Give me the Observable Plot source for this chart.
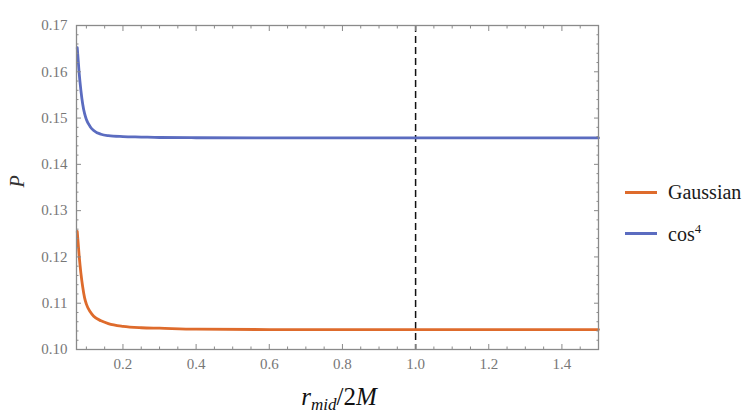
<!DOCTYPE html>
<html><head><meta charset="utf-8">
<script src="https://cdn.jsdelivr.net/npm/d3@7"></script>
<script src="https://cdn.jsdelivr.net/npm/@observablehq/plot@0.6"></script>
<style>
body{margin:0;background:#fff;}
#wrap{position:relative;width:748px;height:419px;overflow:hidden;}
.legrow{position:absolute;display:flex;align-items:center;font-family:"Liberation Serif",serif;font-size:20px;color:#1a1a1a;}
.legrow .sw{width:32px;height:2.5px;margin-right:11px;}
#xlab{position:absolute;left:0;width:678px;text-align:center;top:383px;font-family:"Liberation Serif",serif;font-size:25px;color:#111;}
#xlab sub{font-size:17px;vertical-align:-5px;}
</style></head><body><div id="wrap"></div>
<script>
// ---- data ----
const rValues   = [0.075, 0.08, 0.085, 0.09, 0.095, 0.1, 0.11, 0.12, 0.14, 0.16, 0.2, 0.25, 0.3, 0.4, 0.6, 0.8, 1.0, 1.2, 1.5];
const gaussianP = [0.1255, 0.1205, 0.1165, 0.1135, 0.1112, 0.1098, 0.1082, 0.1072, 0.1062, 0.1056, 0.1050, 0.1047, 0.1046, 0.1044, 0.1043, 0.1043, 0.1043, 0.1043, 0.1043];
const cos4P     = [0.1652, 0.1600, 0.1560, 0.1530, 0.1510, 0.1497, 0.1482, 0.1473, 0.1465, 0.1462, 0.1460, 0.1459, 0.1458, 0.14575, 0.1457, 0.1457, 0.1457, 0.1457, 0.1457];
const seriesNames  = ["Gaussian", "cos⁴"];
const seriesColors = ["#de6b2c", "#5b6cc0"];
const xMajorTicks = [0.2, 0.4, 0.6, 0.8, 1.0, 1.2, 1.4];
const xMinorTicks = [0.1, 0.15, 0.25, 0.3, 0.35, 0.45, 0.5, 0.55, 0.65, 0.7, 0.75, 0.85, 0.9, 0.95, 1.05, 1.1, 1.15, 1.25, 1.3, 1.35, 1.45];
const yMajorTicks = [0.10, 0.11, 0.12, 0.13, 0.14, 0.15, 0.16, 0.17];
const yMinorTicks = [0.102, 0.104, 0.106, 0.108, 0.112, 0.114, 0.116, 0.118, 0.122, 0.124, 0.126, 0.128, 0.132, 0.134, 0.136, 0.138, 0.142, 0.144, 0.146, 0.148, 0.152, 0.154, 0.156, 0.158, 0.162, 0.164, 0.166, 0.168];
const xDomain = [0.073, 1.5];
const yDomain = [0.10, 0.17];
const horizon = [1.0];

const rows = [];
rValues.forEach((r, i) => {
  rows.push({r, P: gaussianP[i], s: seriesNames[0]});
  rows.push({r, P: cos4P[i], s: seriesNames[1]});
});

const axisColor = "#8a8a8a";
const labelFont = {fontFamily: "Liberation Serif", fontSize: 15, fill: "#777"};
const fmt = d3.format(".2f");
const fmt1 = d3.format(".1f");

const chart = Plot.plot({
  width: 748, height: 419,
  marginLeft: 76, marginRight: 150, marginTop: 25, marginBottom: 70,
  style: {fontFamily: "'Liberation Serif', serif", fontSize: "15px", color: "#777", background: "#fff"},
  x: {domain: xDomain},
  y: {domain: yDomain},
  color: {domain: seriesNames, range: seriesColors},
  marks: [
    Plot.ruleX(horizon, {stroke: "#111", strokeWidth: 1.5, strokeDasharray: "7,4"}),
    Plot.line(rows, {x: "r", y: "P", z: "s", stroke: "s", strokeWidth: 2.8, curve: "monotone-x"}),
    Plot.frame({stroke: axisColor, strokeWidth: 1.3}),
    // inward ticks on all four sides
    Plot.axisX(xMajorTicks, {anchor: "bottom", tickSize: -5, tickFormat: () => "", stroke: axisColor, label: null}),
    Plot.axisX(xMajorTicks, {anchor: "top", tickSize: -5, tickFormat: () => "", stroke: axisColor, label: null}),
    Plot.axisX(xMinorTicks, {anchor: "bottom", tickSize: -2.5, tickFormat: () => "", stroke: axisColor, label: null}),
    Plot.axisX(xMinorTicks, {anchor: "top", tickSize: -2.5, tickFormat: () => "", stroke: axisColor, label: null}),
    Plot.axisY(yMajorTicks, {anchor: "left", tickSize: -5, tickFormat: () => "", stroke: axisColor, label: null}),
    Plot.axisY(yMajorTicks, {anchor: "right", tickSize: -5, tickFormat: () => "", stroke: axisColor, label: null}),
    Plot.axisY(yMinorTicks, {anchor: "left", tickSize: -2.5, tickFormat: () => "", stroke: axisColor, label: null}),
    Plot.axisY(yMinorTicks, {anchor: "right", tickSize: -2.5, tickFormat: () => "", stroke: axisColor, label: null}),
    // tick labels
    Plot.axisX(xMajorTicks, {anchor: "bottom", tickSize: 0, tickPadding: 9, tickFormat: fmt1, label: null, ...labelFont}),
    Plot.axisY(yMajorTicks, {anchor: "left", tickSize: 0, tickPadding: 9, tickFormat: fmt, label: null, ...labelFont}),
    Plot.text(["P"], {frameAnchor: "left", dx: -59, rotate: -90, fontStyle: "italic", fontFamily: "Liberation Serif", fontSize: 20, fill: "#333"})
  ]
});

const wrap = document.getElementById("wrap");
wrap.appendChild(chart);

// legend
seriesNames.forEach((name, i) => {
  const row = document.createElement("div");
  row.className = "legrow";
  row.style.left = "625px";
  row.style.top = (i === 0 ? 181 : 221) + "px";
  const sw = document.createElement("span");
  sw.className = "sw";
  sw.style.background = seriesColors[i];
  const t = document.createElement("span");
  if (name === "cos⁴") {
    t.innerHTML = 'cos<sup style="font-size:13px;vertical-align:8px;">4</sup>';
  } else {
    t.textContent = name;
  }
  row.appendChild(sw); row.appendChild(t);
  wrap.appendChild(row);
});

const xl = document.createElement("div");
xl.id = "xlab";
xl.innerHTML = '<i>r</i><sub><i>mid</i></sub>/2<i>M</i>';
wrap.appendChild(xl);
</script>
</body></html>
